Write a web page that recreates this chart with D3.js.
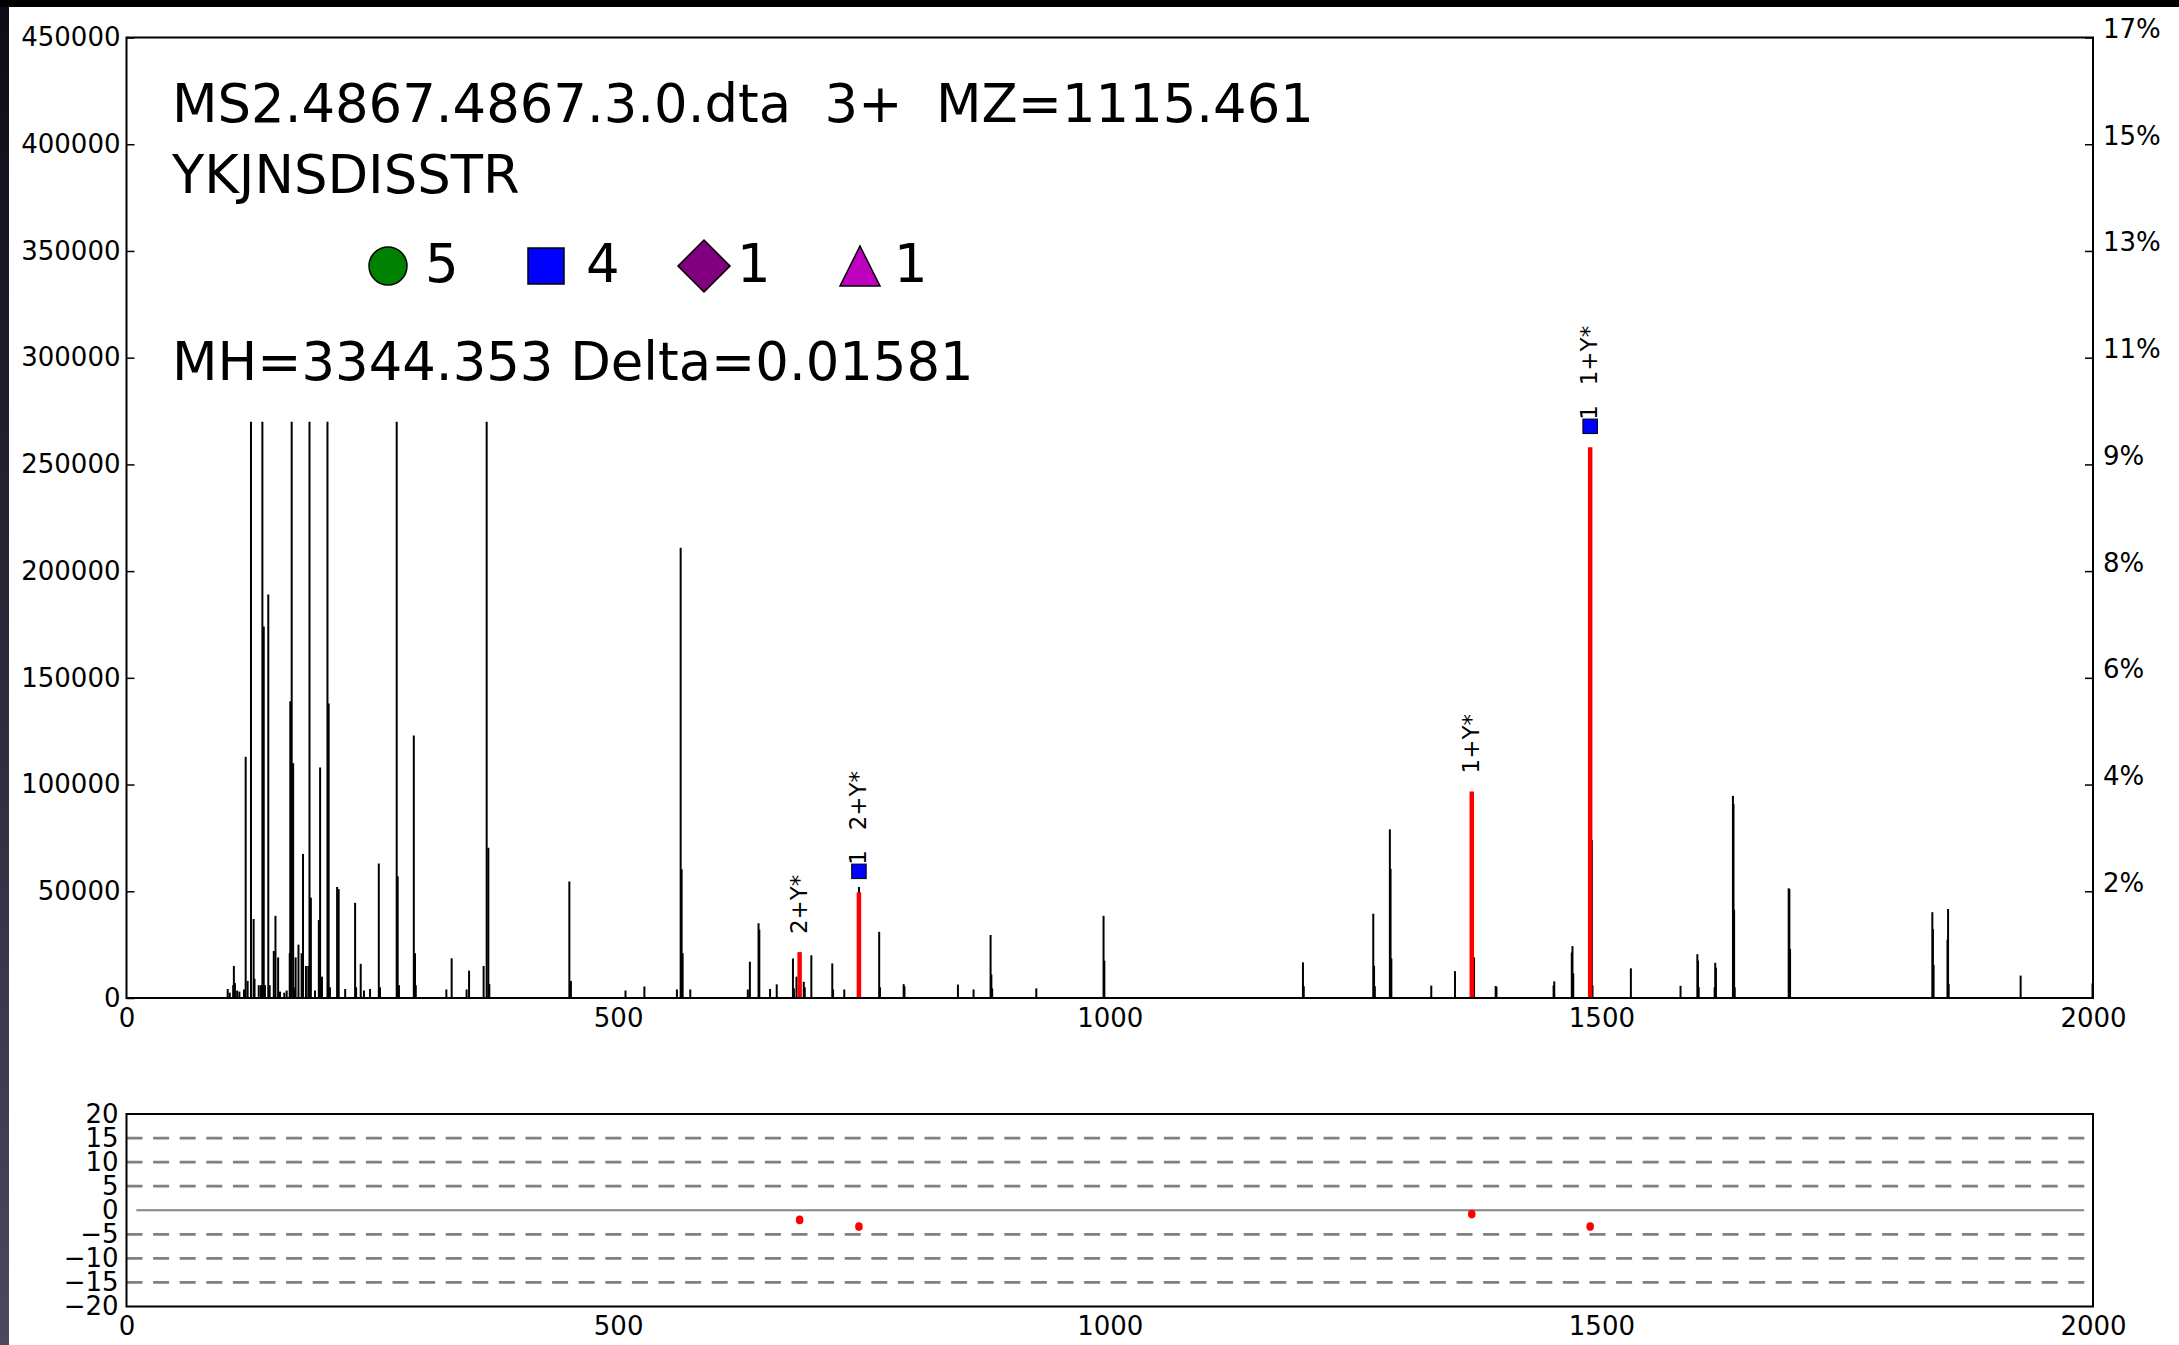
<!DOCTYPE html>
<html>
<head>
<meta charset="utf-8">
<script src="https://cdn.jsdelivr.net/npm/d3@7"></script>
<style>
  html, body { margin: 0; padding: 0; background: #fff; }
  svg { display: block; font-family: "DejaVu Sans", "Liberation Sans", sans-serif; }
</style>
</head>
<body>
<svg id="chart" width="2179" height="1345"></svg>
<script>
// ---- spectrum: observed fragment peaks (m/z, intensity) ----
const peakMz = [
  102.9, 105.0, 108.5, 109.2, 110.3, 112.5, 114.8, 119.5, 121.2, 123.2,
  126.6, 129.3, 130.2, 134.5, 136.8, 138.2, 139.6, 140.8, 144.2, 145.6,
  149.8, 151.5, 154.2, 156.1, 160.5, 162.9, 166.0, 166.6, 168.0, 169.5,
  170.5, 172.0, 174.9, 178.1, 179.5, 182.5, 184.9, 186.1, 187.5, 191.7,
  195.6, 196.9, 198.8, 204.4, 205.6, 206.9, 214.2, 215.8, 222.4, 232.5,
  233.5, 238.2, 241.5, 247.7, 256.6, 257.8, 274.8, 275.8, 277.1, 292.2,
  293.4, 294.2, 325.3, 330.7, 345.9, 348.4, 363.2, 366.3, 368.0, 369.0,
  450.4, 452.0, 507.5, 526.7, 559.8, 563.6, 564.6, 565.6, 573.4, 631.9,
  634.0, 642.8, 643.6, 654.5, 661.3, 677.8, 678.8, 681.4, 688.8, 689.8,
  696.5, 717.8, 718.6, 730.0, 745.0, 765.5, 766.3, 790.4, 791.2, 845.6,
  861.5, 878.8, 879.6, 880.4, 925.3, 993.7, 994.5, 1196.5, 1197.3, 1268.0,
  1268.8, 1269.6, 1284.9, 1285.6, 1286.4, 1327.0, 1351.1, 1370.5, 1392.5, 1393.3,
  1451.4, 1452.1, 1469.9, 1470.6, 1471.4, 1490.3, 1491.0, 1530.0, 1580.5, 1597.6,
  1598.3, 1599.0, 1615.2, 1615.8, 1616.5, 1633.8, 1634.4, 1635.0, 1635.6, 1690.5,
  1691.2, 1691.9, 1836.6, 1837.2, 1837.9, 1852.0, 1852.6, 1853.2, 1926.4, 1999.5
];
const peakIntensity = [
  4200, 2500, 6000, 15000, 7000, 3500, 3000, 4000, 113000, 8000,
  270000, 37000, 9000, 6000, 6000, 270000, 174000, 6000, 189000, 6000,
  22000, 38500, 19000, 3000, 2500, 3500, 21000, 139000, 270000, 110000,
  5000, 19000, 25000, 21000, 67500, 15000, 15000, 270000, 47000, 3500,
  36500, 108000, 10000, 270000, 138000, 5000, 52000, 51000, 4200, 44600,
  5000, 16000, 3500, 4200, 63000, 5000, 270000, 57000, 6000, 123000,
  21000, 6000, 4000, 18600, 4000, 12800, 15000, 270000, 70400, 6500,
  54600, 8000, 3500, 5400, 4000, 211000, 60300, 21000, 4000, 4000,
  17000, 35000, 32000, 4200, 6400, 18500, 4500, 10000, 7600, 5000,
  20000, 16200, 4000, 4000, 52000, 31000, 5000, 6500, 5500, 6300,
  4000, 29500, 11000, 4500, 4500, 38500, 17500, 16700, 5500, 39500,
  15100, 5500, 79000, 60500, 18500, 5800, 12600, 19000, 5600, 5200,
  5900, 7800, 21300, 24300, 11500, 74000, 5900, 13900, 5700, 20500,
  17500, 5000, 5000, 16500, 14200, 94700, 90800, 41300, 5000, 51400,
  51000, 23000, 40200, 32300, 15500, 27300, 41700, 6500, 10500, 6900
];

// ---- matched ions ----
const matchedMz        = [684.6, 744.9, 1368.2, 1488.6];
const matchedIntensity = [21500, 49500, 96800, 258000];
const matchedLabel     = ["2+Y*", "2+Y*", "1+Y*", "1+Y*"];
const matchedCount     = [0, 1, 0, 1];          // blue-square hits shown above the peak
const matchedErrorPpm  = [-2.0, -3.4, -0.8, -3.4];

// ---- header text and ion-type summary ----
const headerLines = ["MS2.4867.4867.3.0.dta  3+  MZ=1115.461", "YKJNSDISSTR"];
const massLine = "MH=3344.353 Delta=0.01581";
const legendShapes = ["circle", "square", "diamond", "triangle"];
const legendColors = ["#008000", "#0000ff", "#800080", "#bf00bf"];
const legendCounts = ["5", "4", "1", "1"];

// ---- axes ----
const mzTicks = [0, 500, 1000, 1500, 2000];
const intensityTicks = d3.range(0, 450001, 50000);
const errorTicks = d3.range(-20, 21, 5);
const errorGrid = [-15, -10, -5, 5, 10, 15];
const totalIon = 2650000;          // percentage scale on the right
const displayCap = 270000;         // tallest drawn stick
const zeroLineMz = [10, 1991];

const svg = d3.select("#chart");

// window chrome strips
const grad = svg.append("defs").append("linearGradient")
  .attr("id", "edge").attr("x1", 0).attr("y1", 0).attr("x2", 0).attr("y2", 1);
grad.append("stop").attr("offset", "0%").attr("stop-color", "#0c0c16");
grad.append("stop").attr("offset", "100%").attr("stop-color", "#4a485e");
svg.append("rect").attr("x", 0).attr("y", 0).attr("width", 9).attr("height", 1345).attr("fill", "url(#edge)");
svg.append("rect").attr("x", 0).attr("y", 0).attr("width", 2179).attr("height", 7).attr("fill", "#000");

const L = 126.5, R = 2093;
const x = d3.scaleLinear().domain([0, 2000]).range([L, R]);
const y = d3.scaleLinear().domain([0, 450000]).range([998, 37.5]);
const ye = d3.scaleLinear().domain([-20, 20]).range([1306.5, 1114]);

const tickFont = 26;
const intFmt = d3.format("d");

// ---------- upper panel ----------
const upper = svg.append("g");

// left axis
const gl = upper.append("g").attr("transform", `translate(${L},0)`)
  .call(d3.axisLeft(y).tickValues(intensityTicks).tickSize(-8).tickPadding(6).tickFormat(intFmt));
// right axis (percent of total ion current)
const gr = upper.append("g").attr("transform", `translate(${R},0)`)
  .call(d3.axisRight(y).tickValues(intensityTicks.filter(v => v > 0)).tickSize(-8).tickPadding(10)
    .tickFormat(v => Math.round(v / totalIon * 100) + "%"));
gr.selectAll("text").attr("dy", "0");
// bottom axis
const gb = upper.append("g").attr("transform", `translate(0,${y(0)})`)
  .call(d3.axisBottom(x).tickValues(mzTicks).tickSize(0).tickPadding(11).tickFormat(intFmt));

[gl, gr, gb].forEach(g => {
  g.select(".domain").remove();
  g.selectAll("line").attr("stroke", "#000").attr("stroke-width", 1.5);
  g.selectAll("text").attr("font-size", tickFont).attr("fill", "#000")
    .attr("font-family", "DejaVu Sans");
});

// sticks
upper.append("g").selectAll("line").data(peakMz).join("line")
  .attr("x1", d => x(d)).attr("x2", d => x(d))
  .attr("y1", y(0))
  .attr("y2", (d, i) => y(Math.min(peakIntensity[i], displayCap)))
  .attr("stroke", "#000").attr("stroke-width", 2);

// matched sticks
upper.append("g").selectAll("line").data(matchedMz).join("line")
  .attr("x1", d => x(d)).attr("x2", d => x(d))
  .attr("y1", y(0))
  .attr("y2", (d, i) => y(Math.min(matchedIntensity[i], displayCap)))
  .attr("stroke", "#ff0000").attr("stroke-width", 4.5);

// matched annotations (vertical text above each red stick)
const annFont = 23;
function vText(cx, start, txt) {
  upper.append("text")
    .attr("transform", `translate(${cx - 1},${start}) rotate(-90)`)
    .attr("font-size", annFont).attr("dominant-baseline", "central")
    .attr("text-anchor", "start").attr("fill", "#000").text(txt);
}
matchedMz.forEach((mz, i) => {
  const cx = x(mz);
  const yTop = y(Math.min(matchedIntensity[i], displayCap));
  if (matchedCount[i] > 0) {
    upper.append("rect")
      .attr("x", cx - 7.25).attr("y", yTop - 21 - 7.25)
      .attr("width", 14.5).attr("height", 14.5)
      .attr("fill", "#0000ff").attr("stroke", "#000").attr("stroke-width", 1);
    vText(cx, yTop - 27.5, String(matchedCount[i]));
    vText(cx, yTop - 62, matchedLabel[i]);
  } else {
    vText(cx, yTop - 18, matchedLabel[i]);
  }
});

// frame
upper.append("rect").attr("x", L).attr("y", y(450000))
  .attr("width", R - L).attr("height", y(0) - y(450000))
  .attr("fill", "none").attr("stroke", "#000").attr("stroke-width", 2);

// header
const head = upper.append("g").attr("font-size", 52.8).attr("fill", "#000");
head.append("text").attr("x", 172).attr("y", 122).style("white-space", "pre").text(headerLines[0]);
head.append("text").attr("x", 172).attr("y", 193).text(headerLines[1]);
head.append("text").attr("x", 172).attr("y", 380).text(massLine);

const legendX = [388, 546, 704, 860];
const legendTextX = [425, 586, 737, 894];
const legendY = 266;
legendShapes.forEach((s, i) => {
  let path;
  if (s === "circle") path = d3.symbol(d3.symbolCircle, Math.PI * 19 * 19)();
  else if (s === "square") path = d3.symbol(d3.symbolSquare, 36 * 36)();
  else if (s === "diamond") path = d3.symbol(d3.symbolSquare, 2 * 26 * 26)();
  else path = "M0,-20L20,20L-20,20Z";
  upper.append("path").attr("d", path)
    .attr("transform", `translate(${legendX[i]},${legendY})` + (s === "diamond" ? " rotate(45)" : ""))
    .attr("fill", legendColors[i]).attr("stroke", "#000").attr("stroke-width", 1.5);
  head.append("text").attr("x", legendTextX[i]).attr("y", 282).text(legendCounts[i]);
});

// ---------- lower panel: mass error (ppm) ----------
const lower = svg.append("g");
lower.append("g").selectAll("line").data(errorGrid).join("line")
  .attr("x1", L).attr("x2", R)
  .attr("y1", d => ye(d)).attr("y2", d => ye(d))
  .attr("stroke", "#808080").attr("stroke-width", 2.8).attr("stroke-dasharray", "16,10.6");
lower.append("line")
  .attr("x1", x(zeroLineMz[0])).attr("x2", x(zeroLineMz[1]))
  .attr("y1", ye(0)).attr("y2", ye(0))
  .attr("stroke", "#858585").attr("stroke-width", 2.2);

lower.append("g").selectAll("ellipse").data(matchedMz).join("ellipse")
  .attr("cx", d => x(d)).attr("cy", (d, i) => ye(matchedErrorPpm[i]))
  .attr("rx", 3.8).attr("ry", 4.3).attr("fill", "#ff0000");

const bl = lower.append("g").attr("transform", `translate(${L},0)`)
  .call(d3.axisLeft(ye).tickValues(errorTicks).tickSize(0).tickPadding(8));
const bb = lower.append("g").attr("transform", `translate(0,${ye(-20)})`)
  .call(d3.axisBottom(x).tickValues(mzTicks).tickSize(0).tickPadding(10).tickFormat(intFmt));
[bl, bb].forEach(g => {
  g.select(".domain").remove();
  g.selectAll("text").attr("font-size", tickFont).attr("fill", "#000")
    .attr("font-family", "DejaVu Sans");
});

lower.append("rect").attr("x", L).attr("y", ye(20))
  .attr("width", R - L).attr("height", ye(-20) - ye(20))
  .attr("fill", "none").attr("stroke", "#000").attr("stroke-width", 2);
</script>
</body>
</html>
